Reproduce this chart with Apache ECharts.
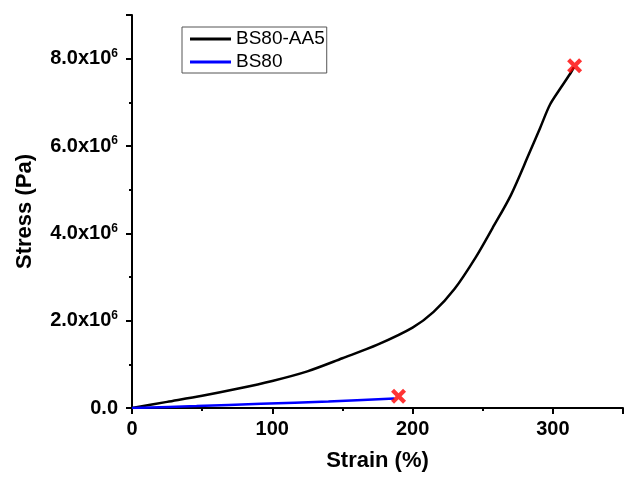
<!DOCTYPE html>
<html>
<head>
<meta charset="utf-8">
<script src="https://cdn.jsdelivr.net/npm/echarts@6/dist/echarts.min.js"></script>
<style>
  html, body { margin: 0; padding: 0; background: #fff; }
  #chart { width: 626px; height: 477px; }
</style>
</head>
<body>
<div id="chart"></div>
<script>
// Tensile curves: strain (%) against stress (Pa)
const aa5Strain = [0, 25, 50, 75, 100, 125, 150, 175, 200, 215, 230, 245, 257, 270, 283, 291, 298, 306, 313, 315];
const aa5Stress = [0, 0.14e6, 0.28e6, 0.44e6, 0.62e6, 0.84e6, 1.14e6, 1.45e6, 1.84e6, 2.2e6, 2.73e6, 3.45e6, 4.12e6, 4.87e6, 5.82e6, 6.42e6, 6.95e6, 7.35e6, 7.69e6, 7.8e6];

const bsStrain = [0, 46, 92, 140, 187];
const bsStress = [0, 0.045e6, 0.097e6, 0.15e6, 0.215e6];

// Break points (red crosses)
const breakStrain = [315.5, 190];
const breakStress = [7.84e6, 0.27e6];

const seriesNames = ['BS80-AA5', 'BS80'];
const xTicks = [0, 100, 200, 300];
const yTicks = [0, 2e6, 4e6, 6e6, 8e6];

const FONT = '"Liberation Sans", Arial, sans-serif';
const crossPath = 'path://M0,2 L2,0 L5,3 L8,0 L10,2 L7,5 L10,8 L8,10 L5,7 L2,10 L0,8 L3,5 Z';

function zipPts(xs, ys) { return xs.map((x, i) => [x, ys[i]]); }

const chart = echarts.init(document.getElementById('chart'), null, { renderer: 'canvas' });

chart.setOption({
  animation: false,
  backgroundColor: '#fff',
  grid: { left: 132, top: 15, width: 497, height: 400, containLabel: false },
  legend: {
    data: seriesNames,
    orient: 'vertical',
    left: 182,
    top: 27,
    padding: [2, 2, 1, 8],
    icon: 'rect',
    itemWidth: 41,
    itemHeight: 3,
    itemGap: 3,
    borderColor: '#555',
    borderWidth: 1,
    textStyle: { fontFamily: FONT, fontSize: 19, color: '#000', lineHeight: 20, padding: [0, 0, 0, 0] }
  },
  xAxis: {
    type: 'value',
    min: 0,
    max: 350,
    interval: 100,
    name: 'Strain (%)',
    nameLocation: 'middle',
    nameGap: 42,
    nameTextStyle: { fontFamily: FONT, fontSize: 22, fontWeight: 'bold', color: '#000', lineHeight: 22 },
    axisLine: { show: true, lineStyle: { color: '#000', width: 2 } },
    axisTick: { show: true, inside: false, length: 6, lineStyle: { color: '#000', width: 2 } },
    minorTick: { show: true, splitNumber: 2, length: 3, lineStyle: { color: '#000', width: 2 } },
    splitLine: { show: false },
    axisLabel: {
      margin: 11,
      fontFamily: FONT, fontSize: 20, fontWeight: 'bold', color: '#000',
      formatter: v => xTicks.indexOf(v) >= 0 ? String(v) : ''
    }
  },
  yAxis: {
    type: 'value',
    min: 0,
    max: 9e6,
    interval: 2e6,
    name: 'Stress (Pa)',
    nameLocation: 'middle',
    nameGap: 96,
    nameTextStyle: { fontFamily: FONT, fontSize: 22, fontWeight: 'bold', color: '#000', lineHeight: 22 },
    axisLine: { show: true, lineStyle: { color: '#000', width: 2 } },
    axisTick: { show: true, inside: false, length: 6, lineStyle: { color: '#000', width: 2 } },
    minorTick: { show: true, splitNumber: 2, length: 3, lineStyle: { color: '#000', width: 2 } },
    splitLine: { show: false },
    axisLabel: {
      margin: 14,
      color: '#000',
      formatter: v => {
        if (yTicks.indexOf(v) < 0) return '';
        if (v === 0) return '{m|0.0}';
        return '{m|' + (v / 1e6).toFixed(1) + 'x10}{s|6}';
      },
      rich: {
        m: { fontFamily: FONT, fontSize: 20, fontWeight: 'bold', color: '#000', lineHeight: 22 },
        s: { fontFamily: FONT, fontSize: 12, fontWeight: 'bold', color: '#000', lineHeight: 12, verticalAlign: 'top', padding: [0, 0, 10, 0] }
      }
    }
  },
  series: [
    {
      name: seriesNames[0],
      type: 'line',
      data: zipPts(aa5Strain, aa5Stress),
      symbol: 'none',
      smooth: 0.3,
      lineStyle: { color: '#000', width: 2.5 },
      itemStyle: { color: '#000' },
      z: 2
    },
    {
      name: seriesNames[1],
      type: 'line',
      data: zipPts(bsStrain, bsStress),
      symbol: 'none',
      smooth: 0.3,
      lineStyle: { color: '#0000ff', width: 2.5 },
      itemStyle: { color: '#0000ff' },
      z: 3
    },
    {
      name: 'break',
      type: 'scatter',
      data: zipPts(breakStrain, breakStress),
      symbol: crossPath,
      symbolSize: 15,
      itemStyle: { color: '#ff0000' },
      z: 5
    }
  ]
});
</script>
</body>
</html>
